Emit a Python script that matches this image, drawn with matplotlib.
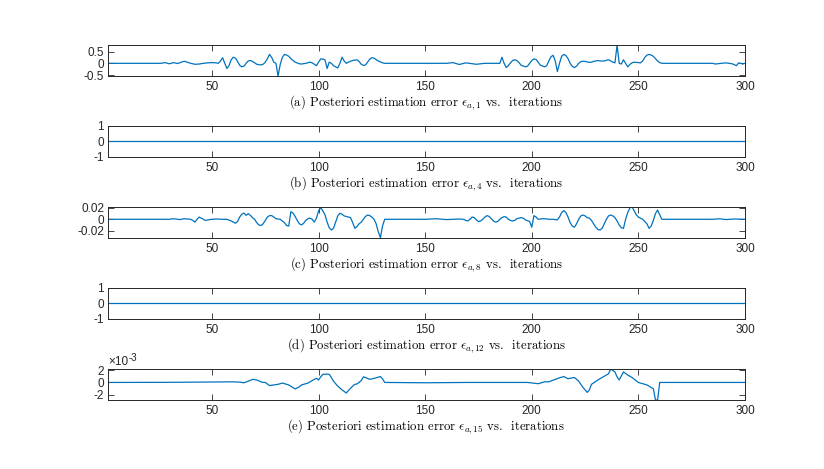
import matplotlib
matplotlib.use("Agg")
import matplotlib.pyplot as plt
import numpy as np

plt.rcParams['axes.unicode_minus'] = False
plt.rcParams['mathtext.fontset'] = 'cm'

# values (iteration, error)
a_it = [1, 26, 28, 30, 32, 34, 35, 37, 38, 40, 42, 44, 46, 48, 50, 52, 53, 54, 55, 56, 57, 58, 59,
        60, 61, 62, 63, 64, 65, 66, 67, 68, 69, 71, 73, 74, 75, 76, 77, 78, 79, 80, 81, 82, 83, 84,
        85, 86, 87, 89, 91, 92, 94, 96, 97, 99, 100, 101, 102, 103, 104, 105, 106, 107, 108, 109,
        110, 111, 112, 113, 114, 116, 118, 119, 120, 121, 122, 123, 124, 125, 126, 128, 130, 131,
        160, 163, 166, 169, 174, 178, 185, 186, 187, 188, 189, 190, 191, 192, 193, 194, 195, 197,
        198, 199, 200, 201, 202, 203, 204, 206, 207, 208, 209, 210, 211, 212, 213, 214, 215, 216,
        217, 218, 219, 220, 221, 222, 223, 224, 225, 227, 228, 229, 231, 232, 234, 235, 236, 237,
        238, 239, 240, 241, 242, 243, 244, 245, 246, 247, 248, 250, 251, 252, 253, 254, 255, 256,
        257, 258, 259, 260, 261, 285, 286, 291, 294, 296, 297, 299, 300]
a_val = [0, 0, 0.03, -0.02, 0.03, -0.01, 0.03, 0.09, 0.06, 0.0, -0.04, -0.03, 0.0, 0.02, 0.03,
         0.02, 0.0, 0.1, 0.24, 0.0, -0.22, -0.1, 0.15, 0.26, 0.22, 0.08, -0.08, -0.15, -0.12, 0.0,
         0.1, 0.12, 0.08, -0.04, -0.07, -0.04, 0.05, 0.2, 0.38, 0.25, 0.05, 0.0, -0.54, -0.05,
         0.25, 0.38, 0.35, 0.30, 0.2, 0.05, -0.02, -0.03, 0.0, 0.05, 0.02, -0.10, 0.05, 0.19, 0.18,
         0.15, -0.22, 0.05, 0.0, -0.10, -0.15, -0.20, 0.0, 0.26, 0.1, 0.0, 0.05, 0.12, 0.15, 0.08,
         -0.04, -0.09, -0.07, 0.05, 0.18, 0.24, 0.22, 0.10, 0.02, 0.0,
         0.0, 0.03, -0.05, 0.02, -0.04, 0.0, 0.0, 0.26, 0.0, -0.18, -0.1, 0.02, 0.12, 0.15, 0.12,
         0.03, -0.08, -0.15, -0.12, 0.0, 0.12, 0.19, 0.16, 0.05, -0.08, -0.15, -0.1, 0.1, 0.28,
         0.34, 0.1, -0.35, 0.0, 0.3, 0.38, 0.33, 0.2, 0.0, -0.13, -0.18, -0.12, 0.0, 0.07, 0.09,
         0.08, 0.04, 0.05, 0.08, 0.12, 0.10, 0.10, 0.13, 0.15, 0.1, 0.05, 0.02, 0.78, 0.0, -0.03,
         0.15, 0.0, -0.15, -0.05, 0.02, 0.05, 0.03, 0.02, 0.1, 0.25, 0.35, 0.38, 0.35, 0.30, 0.2,
         0.1, 0.03, 0.0, 0.0, -0.03, 0.02, -0.02, -0.10, 0.02, -0.03, 0.0]

c_it = [1, 30, 32, 35, 37, 40, 41, 42, 43, 44, 45, 47, 49, 50, 52, 55, 57, 59, 61, 62, 63, 64, 65,
        66, 67, 68, 69, 70, 71, 72, 73, 74, 75, 76, 77, 78, 79, 80, 82, 83, 84, 85, 86, 87, 88, 89,
        90, 91, 92, 93, 94, 95, 96, 97, 98, 99, 100, 101, 102, 103, 104, 105, 106, 107, 108, 109,
        110, 111, 112, 113, 114, 115, 116, 117, 118, 119, 120, 121, 122, 123, 124, 125, 126, 127,
        128, 129, 130, 131, 150, 155, 160, 166, 168, 169, 170, 171, 172, 173, 174, 175, 176, 177,
        178, 179, 180, 181, 182, 183, 184, 185, 186, 187, 188, 189, 190, 191, 192, 193, 195, 196,
        197, 199, 200, 201, 202, 203, 205, 206, 208, 210, 212, 213, 214, 215, 216, 217, 218, 219,
        220, 221, 222, 223, 224, 225, 226, 227, 228, 229, 230, 231, 232, 233, 234, 235, 236, 237,
        238, 239, 240, 241, 242, 243, 244, 245, 246, 247, 248, 249, 250, 252, 254, 255, 256, 257,
        258, 259, 260, 261, 285, 288, 291, 295, 300]
c_val = [0, 0, 0.001, -0.0005, 0.001, 0.0, -0.002, -0.005, 0.0, 0.004, 0.002, -0.002, -0.0005,
         0.0, 0.0005, 0.0, 0.0, -0.003, -0.007, -0.004, 0.004, 0.009, 0.011, 0.007, 0.010, 0.007,
         0.003, 0.0, -0.006, -0.010, -0.011, -0.008, -0.002, 0.004, 0.0065, 0.0065, 0.004, 0.001,
         0.0, -0.003, -0.006, -0.011, -0.012, 0.0135, 0.011, 0.005, -0.002, -0.008, -0.010,
         -0.007, -0.002, 0.001, 0.002, 0.0, -0.005, 0.002, 0.015, 0.0206, 0.015, 0.008, -0.005,
         -0.015, -0.019, -0.016, -0.005, 0.006, 0.0106, 0.009, 0.006, 0.005, 0.004, 0.003,
         -0.006, -0.016, -0.013, -0.008, -0.005, 0.0, 0.005, 0.0076, 0.0065, 0.004, 0.0, -0.008,
         -0.022, -0.0326, -0.012, 0.0,
         0.0, 0.001, -0.0005, 0.0005, 0.0, -0.002, -0.003, 0.0, 0.004, 0.003, -0.001, -0.004,
         -0.003, 0.0, 0.004, 0.0065, 0.005, 0.001, -0.003, -0.005, -0.004, 0.0, 0.003, 0.0047,
         0.004, 0.0, -0.002, -0.003, -0.002, 0.001, 0.003, 0.002, -0.001, -0.004, -0.014, 0.0065,
         0.004, 0.0, 0.001, 0.001, 0.0, 0.0, -0.001, 0.004, 0.012, 0.0153, 0.012, 0.004, -0.006,
         -0.012, -0.014, -0.008, 0.0, 0.006, 0.0076, 0.006, 0.003, 0.002, -0.002, -0.008, -0.014,
         -0.018, -0.019, -0.016, -0.008, 0.0, 0.006, 0.0076, 0.006, 0.003, -0.003, -0.010, -0.015,
         -0.016, 0.0, 0.012, 0.020, 0.0223, 0.015, 0.008, 0.004, 0.0, -0.008, -0.016, -0.012,
         -0.002, 0.010, 0.0165, 0.008, 0.0, 0.0, 0.001, -0.0005, 0.0005, 0.0]

# panel e in units of 1e-3
e_it = [1, 30, 60, 63, 65, 67, 69, 71, 73, 74, 75, 77, 79, 81, 83, 86, 89, 91, 92, 95, 98, 99,
        100, 101, 102, 104, 105, 106, 107, 108, 109, 110, 111, 113, 114, 116, 117, 118, 120,
        121, 122, 124, 126, 128, 129, 130, 131, 150, 170, 198, 203, 206, 208, 211, 213, 215, 217,
        219, 220, 222, 224, 226, 227, 228, 231, 233, 236, 237, 239, 240, 241, 243, 245, 247, 250,
        252, 254, 257, 258, 259, 260, 300]
e_val = [0, 0.02, 0.1, 0.05, -0.05, 0.2, 0.5, 0.4, 0.1, 0.0, 0.0, -0.5, -0.4, -0.3, -0.1, -0.4,
         -1.05, -0.7, -0.4, -0.1, 0.5, 0.67, 0.4, 0.9, 1.3, 1.35, 1.3, 0.8, 0.2, -0.2, -0.6, -0.9,
         -1.2, -1.7, -1.3, -0.6, -0.3, -0.25, 0.3, 0.9, 0.8, 0.5, 0.65, 0.85, 0.95, 0.6, 0.0,
         -0.05, 0.0, 0.0, -0.2, 0.1, 0.1, 0.5, 0.75, 0.95, 0.6, 0.75, 0.8, 0.2, -0.8, -1.6, -1.2,
         -0.3, 0.4, 0.8, 1.4, 2.17, 1.7, 0.9, 0.4, 1.7, 1.2, 0.8, 0.0, -0.2, -0.4, -1.0, -2.83,
         -2.83, 0.0, 0.0]

zero_it = [1, 300]
zero_val = [0, 0]

x_ticks = [50, 100, 150, 200, 250, 300]
y_ticks = [[-0.5, 0, 0.5], [-1, 0, 1], [-0.02, 0, 0.02], [-1, 0, 1], [-2e-3, 0, 2e-3]]
y_ticklabels = [["-0.5", "0", "0.5"], ["-1", "0", "1"], ["-0.02", "0", "0.02"],
                ["-1", "0", "1"], ["-2", "0", "2"]]
captions = [r"(a) Posteriori estimation error $\epsilon_{a,1}$ vs.  iterations",
            r"(b) Posteriori estimation error $\epsilon_{a,4}$ vs.  iterations",
            r"(c) Posteriori estimation error $\epsilon_{a,8}$ vs.  iterations",
            r"(d) Posteriori estimation error $\epsilon_{a,12}$ vs.  iterations",
            r"(e) Posteriori estimation error $\epsilon_{a,15}$ vs.  iterations"]

series = [(a_it, a_val), (zero_it, zero_val), (c_it, c_val), (zero_it, zero_val),
          (e_it, np.array(e_val) * 1e-3)]

W, H = 824, 469
fig = plt.figure(figsize=(W / 100, H / 100), dpi=100)
tops = [45, 125.7, 206.7, 287.7, 369]
ax_h = 31
left, right = 107.5, 745
dark = '#262626'

for i, (xs, ys) in enumerate(series):
    ax = fig.add_axes([left / W, 1 - (tops[i] + ax_h) / H, (right - left) / W, ax_h / H])
    ax.plot(xs, ys, color='#0072BD', lw=0.9)
    ax.set_xlim(1, 300)
    if i in (1, 3):
        ax.set_ylim(-1, 1)
    else:
        ax.set_ylim(min(ys), max(ys))
    ax.set_xticks(x_ticks)
    ax.set_yticks(y_ticks[i])
    ax.set_yticklabels(y_ticklabels[i])
    ax.tick_params(direction='in', length=4.3, width=0.6, color=dark, labelcolor=dark,
                   labelsize=8.5, top=True, right=True)
    ax.tick_params(axis='y', pad=2.5)
    ax.tick_params(axis='x', pad=3.5)
    for lab in ax.get_xticklabels() + ax.get_yticklabels():
        lab.set_fontfamily('Liberation Sans')
    for sp in ax.spines.values():
        sp.set_color(dark)
        sp.set_linewidth(0.7)
    ax.set_xlabel(captions[i], fontfamily='cmr10', fontsize=9.2, labelpad=0.5, color='black')
    if i == 4:
        ax.annotate('×10', xy=(0, 1), xycoords='axes fraction', xytext=(0.5, 0.5),
                    textcoords='offset points', ha='left', va='bottom', fontsize=8.5,
                    color=dark, fontfamily='Liberation Sans')
        ax.annotate('-3', xy=(0, 1), xycoords='axes fraction', xytext=(15.5, 4),
                    textcoords='offset points', ha='left', va='bottom', fontsize=7,
                    color=dark, fontfamily='Liberation Sans')

fig.savefig('out.png', dpi=100)
